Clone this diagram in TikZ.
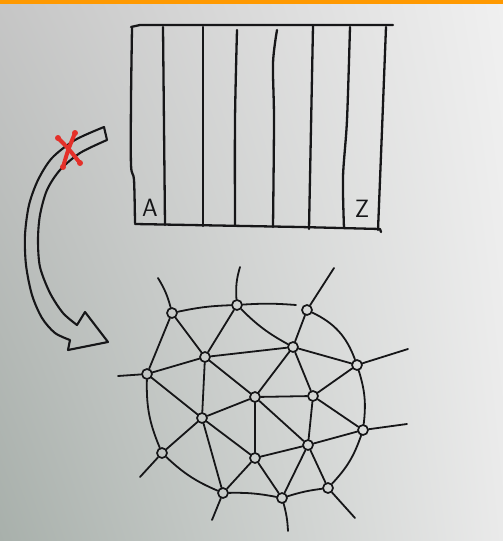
\documentclass[tikz,border=0pt]{standalone}
\usetikzlibrary{shadings}
\definecolor{bar}{RGB}{255,153,0}
\definecolor{ink}{RGB}{22,22,24}
\definecolor{redink}{RGB}{228,48,42}
\definecolor{bgUL}{RGB}{198,198,198}
\definecolor{bgUR}{RGB}{240,240,240}
\definecolor{bgLL}{RGB}{168,176,171}
\definecolor{bgLR}{RGB}{234,234,234}
\begin{document}
\begin{tikzpicture}[x=1pt,y=-1pt,
  inkline/.style={draw=ink,line width=2.3pt,line cap=round,line join=round},
  meshline/.style={draw=ink,line width=1.8pt,line cap=round},
  vtx/.style={circle,draw=ink,line width=1.7pt,minimum size=10pt,inner sep=0pt},
  lbl/.style={font=\sffamily\fontsize{25}{25}\selectfont,text=ink,inner sep=0pt},
  redx/.style={draw=redink,line width=4pt,line cap=round}]
\useasboundingbox (0,0) rectangle (503,541);
% paper background
\shade[upper left=bgUL,upper right=bgUR,lower left=bgLL,lower right=bgLR] (0,0) rectangle (503,541);
\fill[bar] (0,0) rectangle (503,3.5);

% ---------- striped rectangle ----------
\draw[inkline] (131,27) -- (140,25) -- (393,25);
\draw[inkline] plot[smooth] coordinates {(132,28) (131,100) (131,165) (134,180) (135,223)};
\draw[inkline] (135,224) -- (300,227) -- (380,229) -- (381,232);
\draw[inkline] (386,27) -- (382,130) -- (378,230);
\draw[inkline] (163,27) -- (165,225);
\draw[inkline] (203,27) -- (203,226);
\draw[inkline] plot[smooth] coordinates {(237,30) (235,120) (235,226)};
\draw[inkline] plot[smooth] coordinates {(277,30) (273,63) (274,120) (273,227)};
\draw[inkline] (313,26) -- (309,229);
\draw[inkline] plot[smooth] coordinates {(350,27) (347,120) (343,177) (344,228)};
\node[lbl] (la) at (150,208) {A};
\node[lbl] (lz) at (362,209) {Z};

% ---------- hollow curved arrow ----------
\draw[draw=ink,line width=2.1pt,line join=round]
  (104,127) -- (107,140)
  -- plot[smooth] coordinates {(107,140) (80,153) (60,170) (47,190) (40,215) (38,240) (40,267) (50,293) (63,313) (77,325)}
  -- (85,312) -- (108,342) -- (68,350) -- (70,340)
  -- plot[smooth] coordinates {(70,340) (55,333) (42,318) (32,295) (26,265) (25,235) (29,205) (38,180) (52,158) (75,140) (104,127)}
  -- cycle;
% red cross
\draw[redx] (58,138) .. controls (68,148) .. (80,163);
\draw[redx] (75,133) .. controls (68,150) .. (63,167);
\foreach \p in {(58,138),(80,163),(75,133),(63,167)} \fill[redink] \p circle (3);

% ---------- mesh ----------
\node[vtx] (v1) at (172,313) {};
\node[vtx] (v2) at (237,305) {};
\node[vtx] (v3) at (307,310) {};
\node[vtx] (v4) at (205,357) {};
\node[vtx] (v5) at (293,347) {};
\node[vtx] (v6) at (357,365) {};
\node[vtx] (v7) at (147,374) {};
\node[vtx] (v8) at (255,397) {};
\node[vtx] (v9) at (313,396) {};
\node[vtx] (v10) at (202,418) {};
\node[vtx] (v11) at (363,430) {};
\node[vtx] (v12) at (308,445) {};
\node[vtx] (v13) at (162,453) {};
\node[vtx] (v14) at (255,458) {};
\node[vtx] (v15) at (223,493) {};
\node[vtx] (v16) at (282,498) {};
\node[vtx] (v17) at (328,488) {};
\coordinate (e23) at (296,305);
\coordinate (s1) at (158,278);
\coordinate (s2) at (240,267);
\coordinate (s3) at (334,268);
\coordinate (s6) at (408,349);
\coordinate (s7) at (118,376);
\coordinate (s11) at (407,424);
\coordinate (s13) at (140,477);
\coordinate (s15) at (212,520);
\coordinate (s16) at (288,531);
\coordinate (s17) at (355,518);

\draw[meshline] (v1) to[bend left=5] (v2);
\draw[meshline] (v2) to[bend left=4] (e23);
\draw[meshline] (v1) -- (v4);
\draw[meshline] (v1) -- (v7);
\draw[meshline] (v2) -- (v4);
\draw[meshline] (v2) to[bend right=8] (v5);
\draw[meshline] (v3) -- (v5);
\draw[meshline] (v3) to[bend left=22] (v6);
\draw[meshline] (v4) -- (v5);
\draw[meshline] (v4) -- (v7);
\draw[meshline] (v4) -- (v8);
\draw[meshline] (v4) -- (v10);
\draw[meshline] (v5) -- (v8);
\draw[meshline] (v5) -- (v9);
\draw[meshline] (v5) -- (v6);
\draw[meshline] (v6) -- (v9);
\draw[meshline] (v6) to[bend left=12] (v11);
\draw[meshline] (v7) -- (v10);
\draw[meshline] (v7) to[bend right=12] (v13);
\draw[meshline] (v8) -- (v9);
\draw[meshline] (v8) -- (v10);
\draw[meshline] (v8) -- (v12);
\draw[meshline] (v8) -- (v14);
\draw[meshline] (v9) -- (v11);
\draw[meshline] (v9) -- (v12);
\draw[meshline] (v10) -- (v13);
\draw[meshline] (v10) -- (v14);
\draw[meshline] (v10) -- (v15);
\draw[meshline] (v11) -- (v12);
\draw[meshline] (v11) to[bend left=12] (v17);
\draw[meshline] (v12) -- (v14);
\draw[meshline] (v12) -- (v16);
\draw[meshline] (v12) -- (v17);
\draw[meshline] (v13) to[bend right=10] (v15);
\draw[meshline] (v14) -- (v15);
\draw[meshline] (v14) -- (v16);
\draw[meshline] (v15) to[bend left=6] (v16);
\draw[meshline] (v16) to[bend left=5] (v17);
% outer stubs
\draw[meshline] (v1) to[bend right=8] (s1);
\draw[meshline] (v2) to[bend left=10] (s2);
\draw[meshline] (v3) -- (s3);
\draw[meshline] (v6) -- (s6);
\draw[meshline] (v7) -- (s7);
\draw[meshline] (v11) -- (s11);
\draw[meshline] (v13) -- (s13);
\draw[meshline] (v15) -- (s15);
\draw[meshline] (v16) to[bend left=6] (s16);
\draw[meshline] (v17) -- (s17);
\end{tikzpicture}
\end{document}
